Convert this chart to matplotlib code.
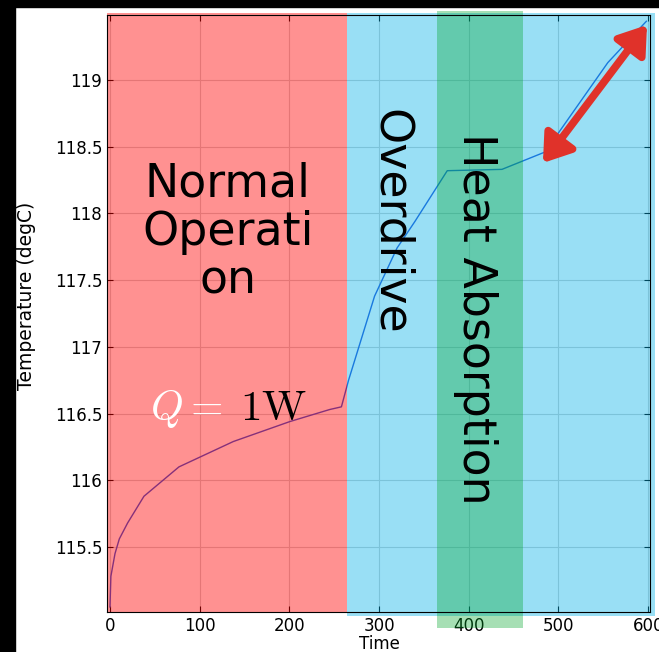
import matplotlib
matplotlib.use("Agg")
import matplotlib.pyplot as plt
from matplotlib.patches import Rectangle

# temperature curve
time_s = [0, 1, 5.6, 10.4, 19.7, 37.9, 76.9, 137.5, 200.7, 245, 258,
          266, 295, 320, 340, 376, 437, 485, 555, 598]
temp_c = [115.05, 115.28, 115.45, 115.56, 115.68, 115.88, 116.10, 116.29,
          116.44, 116.53, 116.55, 116.75, 117.38, 117.74, 117.94, 118.32,
          118.33, 118.46, 119.13, 119.44]

xticks = [0, 100, 200, 300, 400, 500, 600]
yticks = [115.5, 116, 116.5, 117, 117.5, 118, 118.5, 119]

# phases (start, end) in time
normal_span = (-3.3, 263.9)
overdrive_span = (263.9, 607.6)
absorb_span = (364.5, 460.5)

fig = plt.figure(figsize=(6.59, 6.52), dpi=100)
ax = fig.add_axes([0.1624, 0.0613, 0.8232, 0.9157])

ax.plot(time_s, temp_c, color="#2a55d8", lw=1.0, zorder=2)
ax.set_xlim(-3.3, 601.5)
ax.set_ylim(115.012, 119.487)
ax.set_xticks(xticks)
ax.set_yticks(yticks)
ax.set_yticklabels(["115.5", "116", "116.5", "117", "117.5", "118", "118.5", "119"])
ax.tick_params(direction="in", top=True, right=True, length=4, labelsize=12)
ax.grid(True, color="#d0d0d0", lw=0.8)
ax.set_xlabel("Time", fontsize=12)
ax.set_ylabel("Temperature (degC)", fontsize=13.5)
ax.xaxis.set_label_coords(0.503, -0.038)
ax.yaxis.set_label_coords(-0.13, 0.53)

# coloured phase overlays (they spill a bit outside the axes)
ax.add_patch(Rectangle((normal_span[0], 115.01), normal_span[1] - normal_span[0],
                       119.50 - 115.01, color="#ff0000", alpha=0.43, lw=0,
                       zorder=2.2, clip_on=False))
ax.add_patch(Rectangle((overdrive_span[0], 114.98), overdrive_span[1] - overdrive_span[0],
                       119.50 - 114.98, color="#00b0e8", alpha=0.4, lw=0,
                       zorder=2.2, clip_on=False))
ax.add_patch(Rectangle((absorb_span[0], 114.89), absorb_span[1] - absorb_span[0],
                       119.52 - 114.89, color="#00a528", alpha=0.35, lw=0,
                       zorder=2.3, clip_on=False))

big = dict(fontsize=33, family="DejaVu Sans", color="black", zorder=5)
ax.text(131.5, 117.86, "Normal\nOperati\non", ha="center", va="center",
        multialignment="center", linespacing=1.1, **big)
ax.text(313, 117.94, "Overdrive", rotation=-90, ha="center", va="center", **big)
ax.text(408, 117.21, "Heat Absorption", rotation=-90, ha="center", va="center", **big)

plt.rcParams["mathtext.fontset"] = "cm"
ax.text(44.6, 116.45, r"$Q=$", fontsize=30, color="white", ha="left",
        va="baseline", zorder=5)
ax.text(145, 116.45, r"$\mathrm{1W}$", fontsize=31, color="black", ha="left",
        va="baseline", zorder=5)

# double headed arrow
ax.annotate("", xy=(598.7, 119.412), xytext=(482.7, 118.378),
            arrowprops=dict(arrowstyle="<|-|>,head_length=0.8,head_width=0.55",
                            color="#e0322a", lw=5.5, mutation_scale=20,
                            shrinkA=0, shrinkB=0),
            zorder=6)

# black border strips of the screenshot
fig.patches.append(Rectangle((0, 1 - 7 / 652), 1, 7 / 652, transform=fig.transFigure,
                             color="black", zorder=10))
fig.patches.append(Rectangle((0, 0), 15 / 659, 1, transform=fig.transFigure,
                             color="black", zorder=10))

fig.savefig("out.png", dpi=100)
